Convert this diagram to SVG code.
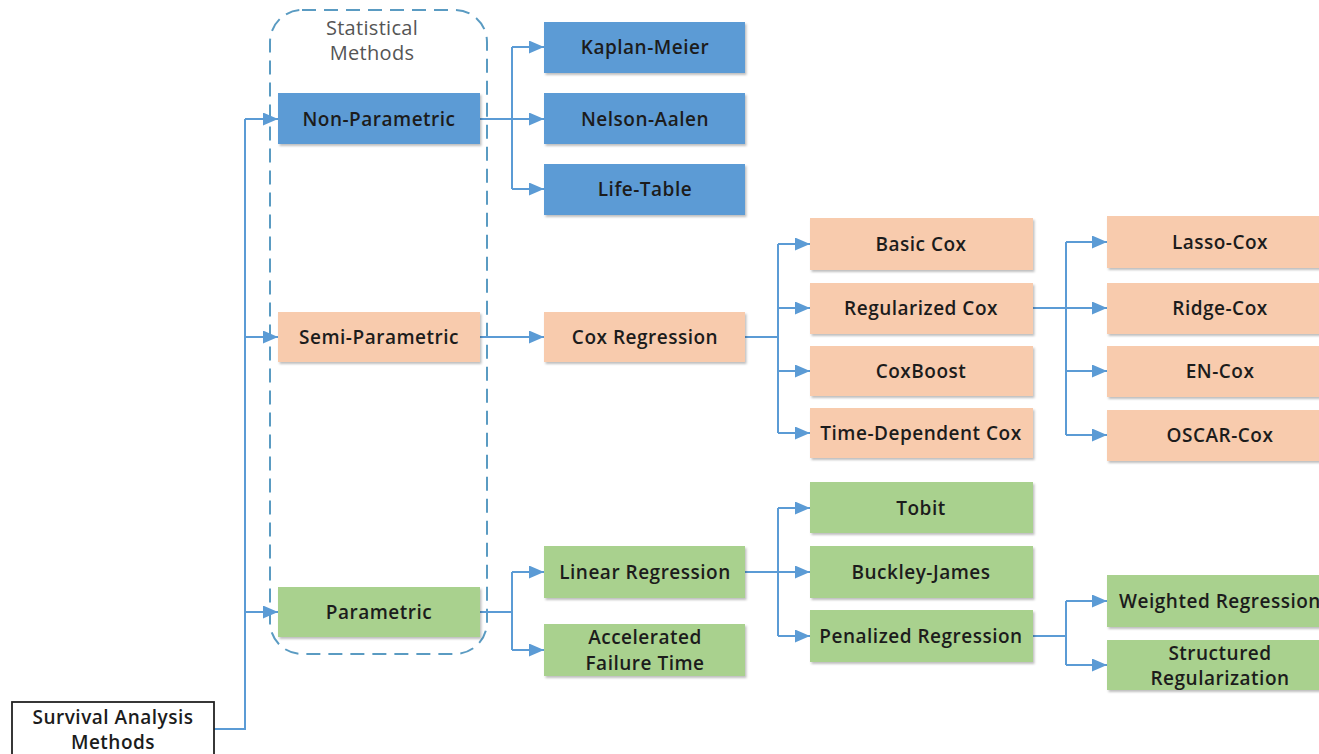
<svg xmlns="http://www.w3.org/2000/svg" width="1319" height="754" viewBox="0 0 1319 754">
<defs>
<marker id="ah" markerWidth="15" markerHeight="13" refX="15" refY="6.5" orient="auto" markerUnits="userSpaceOnUse">
<path d="M0,0 L15,6.5 L0,13 Z" fill="#5B9BD5"/>
</marker>
<filter id="sh" x="-5%" y="-10%" width="115%" height="130%">
<feDropShadow dx="1.5" dy="2" stdDeviation="1.2" flood-color="#000" flood-opacity="0.25"/>
</filter>
<style>
.b{fill:#5B9BD5;filter:url(#sh)}
.o{fill:#F8CBAD;filter:url(#sh)}
.g{fill:#A9D18E;filter:url(#sh)}
.t{font-family:"Open Sans","Liberation Sans",sans-serif;font-weight:600;font-size:19px;letter-spacing:0.5px;fill:#1c1c1c;text-anchor:middle;dominant-baseline:central}
.s{font-family:"Open Sans","Liberation Sans",sans-serif;font-size:20px;letter-spacing:0.3px;fill:#555;text-anchor:middle;dominant-baseline:central}
.c{fill:none;stroke:#5B9BD5;stroke-width:2}
.a{fill:none;stroke:#5B9BD5;stroke-width:2;marker-end:url(#ah)}
</style>
</defs>
<rect width="1319" height="754" fill="#fff"/>

<g id="stat-group">
<rect x="270" y="10" width="217" height="644" rx="32" ry="32" fill="none" stroke="#5A9BC2" stroke-width="2" stroke-dasharray="14 8"/>
<text class="s" x="372" y="27">Statistical</text>
<text class="s" x="372" y="52">Methods</text>
</g>

<g id="connectors">
<path class="c" d="M214,729 H245 V119"/>
<path class="a" d="M245,119 H278"/>
<path class="a" d="M245,337 H278"/>
<path class="a" d="M245,612 H278"/>

<path class="c" d="M480,119 H512 M512,47 V189"/>
<path class="a" d="M512,47 H544"/>
<path class="a" d="M512,119 H544"/>
<path class="a" d="M512,189 H544"/>

<path class="a" d="M480,337 H544"/>

<path class="c" d="M480,612 H512 M512,572 V650"/>
<path class="a" d="M512,572 H544"/>
<path class="a" d="M512,650 H544"/>

<path class="c" d="M745,337 H778 M778,244 V433"/>
<path class="a" d="M778,244 H810"/>
<path class="a" d="M778,308 H810"/>
<path class="a" d="M778,371 H810"/>
<path class="a" d="M778,433 H810"/>

<path class="c" d="M745,572 H778 M778,508 V636"/>
<path class="a" d="M778,508 H810"/>
<path class="a" d="M778,572 H810"/>
<path class="a" d="M778,636 H810"/>

<path class="c" d="M1033,308 H1066 M1066,242 V435"/>
<path class="a" d="M1066,242 H1107"/>
<path class="a" d="M1066,308 H1107"/>
<path class="a" d="M1066,371 H1107"/>
<path class="a" d="M1066,435 H1107"/>

<path class="c" d="M1033,636 H1066 M1066,601 V665"/>
<path class="a" d="M1066,601 H1107"/>
<path class="a" d="M1066,665 H1107"/>
</g>

<g id="survival">
<rect x="12" y="702" width="202" height="56" fill="#fff" stroke="#222" stroke-width="1.8"/>
<text class="t" x="113" y="717">Survival Analysis</text>
<text class="t" x="113" y="742">Methods</text>
</g>

<g id="non-parametric"><rect class="b" x="278" y="93" width="202" height="51"/><text class="t" x="379" y="119">Non-Parametric</text></g>
<g id="semi-parametric"><rect class="o" x="278" y="312" width="202" height="50"/><text class="t" x="379" y="337">Semi-Parametric</text></g>
<g id="parametric"><rect class="g" x="278" y="587" width="202" height="50"/><text class="t" x="379" y="612">Parametric</text></g>

<g id="kaplan-meier"><rect class="b" x="544" y="22" width="201" height="51"/><text class="t" x="645" y="47">Kaplan-Meier</text></g>
<g id="nelson-aalen"><rect class="b" x="544" y="93" width="201" height="51"/><text class="t" x="645" y="119">Nelson-Aalen</text></g>
<g id="life-table"><rect class="b" x="544" y="164" width="201" height="51"/><text class="t" x="645" y="189">Life-Table</text></g>
<g id="cox-regression"><rect class="o" x="544" y="312" width="201" height="50"/><text class="t" x="645" y="337">Cox Regression</text></g>
<g id="linear-regression"><rect class="g" x="544" y="546" width="201" height="52"/><text class="t" x="645" y="572">Linear Regression</text></g>
<g id="aft"><rect class="g" x="544" y="624" width="201" height="52"/><text class="t" x="645" y="637">Accelerated</text><text class="t" x="645" y="663">Failure Time</text></g>

<g id="basic-cox"><rect class="o" x="810" y="218" width="223" height="52"/><text class="t" x="921" y="244">Basic Cox</text></g>
<g id="regularized-cox"><rect class="o" x="810" y="283" width="223" height="51"/><text class="t" x="921" y="308">Regularized Cox</text></g>
<g id="coxboost"><rect class="o" x="810" y="346" width="223" height="50"/><text class="t" x="921" y="371">CoxBoost</text></g>
<g id="time-dependent-cox"><rect class="o" x="810" y="408" width="223" height="50"/><text class="t" x="921" y="433">Time-Dependent Cox</text></g>
<g id="tobit"><rect class="g" x="810" y="482" width="223" height="51"/><text class="t" x="921" y="508">Tobit</text></g>
<g id="buckley-james"><rect class="g" x="810" y="546" width="223" height="52"/><text class="t" x="921" y="572">Buckley-James</text></g>
<g id="penalized-regression"><rect class="g" x="810" y="610" width="223" height="52"/><text class="t" x="921" y="636">Penalized Regression</text></g>

<g id="lasso-cox"><rect class="o" x="1107" y="216" width="226" height="52"/><text class="t" x="1220" y="242">Lasso-Cox</text></g>
<g id="ridge-cox"><rect class="o" x="1107" y="283" width="226" height="51"/><text class="t" x="1220" y="308">Ridge-Cox</text></g>
<g id="en-cox"><rect class="o" x="1107" y="346" width="226" height="51"/><text class="t" x="1220" y="371">EN-Cox</text></g>
<g id="oscar-cox"><rect class="o" x="1107" y="410" width="226" height="51"/><text class="t" x="1220" y="435">OSCAR-Cox</text></g>
<g id="weighted-regression"><rect class="g" x="1107" y="575" width="226" height="52"/><text class="t" x="1220" y="601">Weighted Regression</text></g>
<g id="structured-regularization"><rect class="g" x="1107" y="640" width="226" height="50"/><text class="t" x="1220" y="653">Structured</text><text class="t" x="1220" y="678">Regularization</text></g>
</svg>
